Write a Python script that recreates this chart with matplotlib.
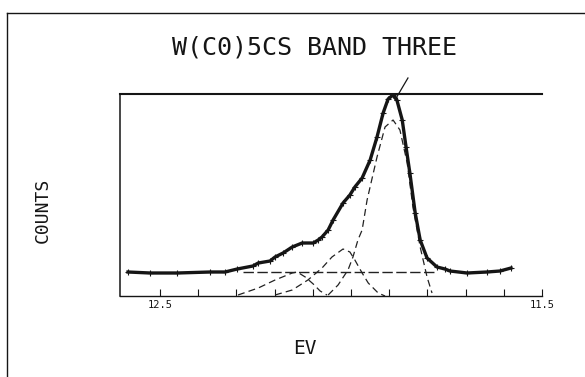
import matplotlib
matplotlib.use("Agg")
import matplotlib.pyplot as plt
from matplotlib.lines import Line2D

plt.rcParams['font.family'] = ['DejaVu Sans Mono']
plt.rcParams['lines.scale_dashes'] = False

# ---- data (x in eV, y in arbitrary counts) ----
data_ev = [12.584, 12.526, 12.455, 12.369, 12.330, 12.298, 12.257, 12.243, 12.212,
           12.199, 12.178, 12.154, 12.128, 12.099, 12.086, 12.076, 12.060, 12.047,
           12.021, 12.003, 11.990, 11.971, 11.950, 11.932, 11.916, 11.903, 11.890,
           11.880, 11.866, 11.856, 11.846, 11.832, 11.819, 11.801, 11.775, 11.754,
           11.741, 11.696, 11.644, 11.610, 11.581]
data_counts = [24, 23, 23, 24, 24, 27, 30, 33, 35,
               39, 43, 49, 53, 53, 56, 59, 66, 76,
               93, 101, 109, 118, 136, 159, 183, 197, 201,
               196, 176, 149, 123, 83, 56, 38, 29, 27,
               25, 23, 24, 25, 28]

# stray stroke of the fit curve beyond the frame
fit_tail_ev = [11.885, 11.851]
fit_tail_counts = [196, 218]

# constant background
bg_ev = [12.283, 11.775]
bg_counts = [24, 24]

# fitted band components
g1_ev = [12.296, 12.243, 12.199, 12.154, 12.141, 12.120, 12.099, 12.081, 12.063]
g1_counts = [1, 8, 16, 23, 24, 19, 12, 5, 1]

g2_ev = [12.199, 12.154, 12.113, 12.076, 12.050, 12.021, 12.003, 11.990, 11.971,
         11.955, 11.929, 11.911]
g2_counts = [1, 6, 16, 28, 39, 47, 44, 36, 23, 13, 3, 0]

g3_ev = [12.060, 12.034, 12.008, 11.995, 11.982, 11.971, 11.958, 11.932, 11.911,
         11.890, 11.872, 11.853, 11.838, 11.819, 11.801, 11.788]
g3_counts = [1, 11, 26, 39, 56, 66, 96, 139, 169, 176, 166, 133, 89, 49, 19, 3]

tick_values = [12.5, 12.4, 12.3, 12.2, 12.1, 12.0, 11.9, 11.8, 11.7, 11.6, 11.5]
tick_labels = ["12.5", "", "", "", "", "", "", "", "", "", "11.5"]

title_text = "W(C0)5CS BAND THREE"
xlabel_text = "EV"
ylabel_text = "C0UNTS"

# ---- figure ----
W, H = 585, 377
fig = plt.figure(figsize=(W / 100, H / 100), dpi=100)
ax = fig.add_axes([120 / W, 1 - 296 / H, 422 / W, 202 / H])

ink = '#151515'
dash_ink = '#222222'

ax.plot(bg_ev, bg_counts, color=dash_ink, lw=1.0, dashes=(7.5, 2.5))
for gx, gy in [(g1_ev, g1_counts), (g2_ev, g2_counts), (g3_ev, g3_counts)]:
    ax.plot(gx, gy, color=dash_ink, lw=0.9, dashes=(5, 3))

ax.plot(data_ev, data_counts, color=ink, lw=2.4, marker='+', ms=4, mew=0.8,
        solid_joinstyle='round')
ax.plot(fit_tail_ev, fit_tail_counts, color=ink, lw=0.9, clip_on=False)

ax.set_xlim(12.605, 11.5)
ax.set_ylim(0, 202)
ax.set_xticks(tick_values)
ax.set_xticklabels(tick_labels)
ax.set_yticks([])
ax.tick_params(axis='x', direction='in', length=5, width=0.8, color=ink,
               labelsize=7.5, pad=3, labelcolor=ink)

ax.spines['right'].set_visible(False)
ax.spines['top'].set_linewidth(1.5)
ax.spines['left'].set_linewidth(1.1)
ax.spines['bottom'].set_linewidth(1.0)
for s in ax.spines.values():
    s.set_color(ink)

fig.text(315 / W, 1 - 48 / H, title_text, ha='center', va='center',
         fontsize=18, color=ink)
fig.text(305 / W, 1 - 349 / H, xlabel_text, ha='center', va='center',
         fontsize=14, color=ink)
fig.text(43 / W, 1 - 210 / H, ylabel_text, ha='center', va='center',
         rotation=90, fontsize=13, color=ink)

# outer frame of the page
fig.add_artist(Line2D([7 / W, 1.0], [1 - 13 / H, 1 - 13 / H],
                      transform=fig.transFigure, color=ink, lw=1.0))
fig.add_artist(Line2D([7 / W, 7 / W], [1 - 13 / H, 0.0],
                      transform=fig.transFigure, color=ink, lw=1.0))

fig.savefig("out.png", dpi=100, facecolor='white')
